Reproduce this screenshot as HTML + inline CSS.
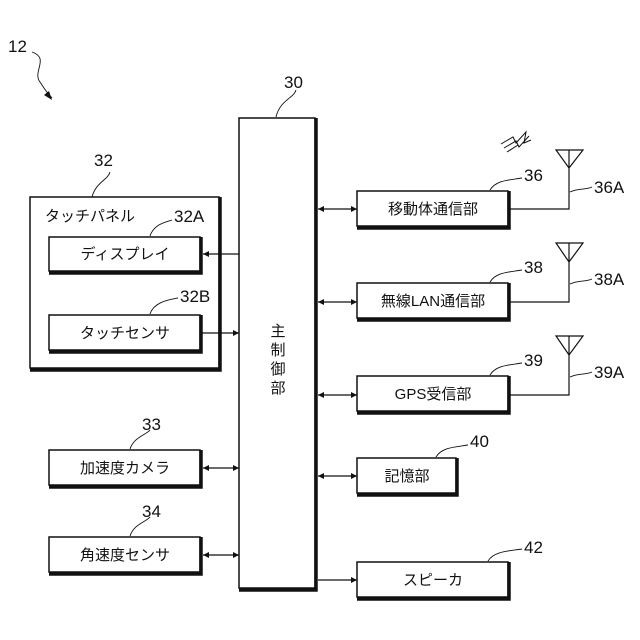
<!DOCTYPE html>
<html><head><meta charset="utf-8"><style>
html,body{margin:0;padding:0;background:#fff;}
svg{display:block}
text{font-family:"Liberation Sans","Noto Sans CJK JP",sans-serif;fill:#111;}
</style></head><body>
<svg width="640" height="640" viewBox="0 0 640 640" xmlns="http://www.w3.org/2000/svg">
<defs>
<marker id="a" viewBox="0 0 10 10" refX="10" refY="5" markerWidth="8" markerHeight="6" orient="auto-start-reverse" markerUnits="userSpaceOnUse"><path d="M0,0 L10,5 L0,10 z" fill="#111"/></marker>
</defs>
<g stroke="#111" fill="none">
<g stroke-width="1.5">
<rect x="239" y="118" width="76" height="470"/>
<rect x="30" y="197" width="189" height="171"/>
<rect x="49" y="237" width="151" height="34"/>
<rect x="49" y="315" width="151" height="35"/>
<rect x="49" y="450" width="151" height="35"/>
<rect x="49" y="537" width="151" height="35"/>
<rect x="357" y="191" width="151" height="35"/>
<rect x="357" y="283" width="151" height="35"/>
<rect x="357" y="376" width="151" height="35"/>
<rect x="357" y="458" width="99" height="35"/>
<rect x="357" y="562" width="151" height="35"/>
</g>
<g stroke-width="3.5">
<path d="M316,118 V590 H239"/>
<path d="M220,197 V370 H30"/>
<path d="M201,237 V273 H49"/>
<path d="M201,315 V352 H49"/>
<path d="M201,450 V487 H49"/>
<path d="M201,537 V574 H49"/>
<path d="M509,191 V228 H357"/>
<path d="M509,283 V320 H357"/>
<path d="M509,376 V413 H357"/>
<path d="M457,458 V495 H357"/>
<path d="M509,562 V599 H357"/>
</g>
<g stroke-width="1.2">
<line x1="239" y1="254" x2="203" y2="254" marker-end="url(#a)"/>
<line x1="202" y1="333" x2="239" y2="333" marker-end="url(#a)"/>
<line x1="203" y1="468" x2="239" y2="468" marker-start="url(#a)" marker-end="url(#a)"/>
<line x1="203" y1="555" x2="239" y2="555" marker-start="url(#a)" marker-end="url(#a)"/>
<line x1="318" y1="209" x2="357" y2="209" marker-start="url(#a)" marker-end="url(#a)"/>
<line x1="318" y1="302" x2="357" y2="302" marker-start="url(#a)" marker-end="url(#a)"/>
<line x1="318" y1="395" x2="357" y2="395" marker-start="url(#a)" marker-end="url(#a)"/>
<line x1="318" y1="476" x2="357" y2="476" marker-start="url(#a)" marker-end="url(#a)"/>
<line x1="318" y1="580" x2="357" y2="580" marker-end="url(#a)"/>
<path d="M510,209 H569 V150 M556,150 H583 L569,168 Z"/>
<path d="M510,302 H569 V243 M556,243 H583 L569,262 Z"/>
<path d="M510,395 H569 V336 M556,336 H583 L569,355 Z"/>
</g>
<g stroke-width="1">
<path d="M501,144 L513,137 L516,143 L526,132 L524,143 L531,140" />
<path d="M504,148 L516,141 L519,147 L529,136" />
<path d="M507,152 L518,145"/>
</g>
<g stroke-width="0.9">
<path d="M32,52 C50,58 32,72 40,82 C44,88 46,92 52,98"/>
<path d="M276,117 C280,100 294,98 296,90"/>
<path d="M92,197 C96,182 108,180 110,172"/>
<path d="M150,236 C154,224 166,222 172,220"/>
<path d="M150,314 C154,302 168,300 178,298"/>
<path d="M130,449 C134,437 146,435 150,430"/>
<path d="M130,536 C134,524 146,522 150,517"/>
<path d="M490,190 C496,180 510,180 522,178"/>
<path d="M490,282 C496,272 510,272 522,270"/>
<path d="M490,375 C496,365 510,365 522,363"/>
<path d="M436,457 C442,447 456,447 468,445"/>
<path d="M488,561 C494,551 510,551 522,549"/>
<path d="M570,192 C578,188 586,190 592,187"/>
<path d="M570,284 C578,280 586,282 592,279"/>
<path d="M570,377 C578,373 586,375 592,372"/>
</g>
<path d="M44,95 L52,100 L49,91 Z" fill="#111" stroke="none"/>
</g>
<g font-size="17">
<text x="8" y="52">12</text>
<text x="284" y="88">30</text>
<text x="94" y="166">32</text>
<text x="174" y="222">32A</text>
<text x="180" y="302">32B</text>
<text x="142" y="430">33</text>
<text x="142" y="517">34</text>
<text x="524" y="181">36</text>
<text x="524" y="273">38</text>
<text x="524" y="366">39</text>
<text x="470" y="447">40</text>
<text x="524" y="553">42</text>
<text x="594" y="193">36A</text>
<text x="594" y="285">38A</text>
<text x="594" y="378">39A</text>
</g>
<g font-size="15" text-anchor="middle">
<text x="125" y="259">ディスプレイ</text>
<text x="125" y="338">タッチセンサ</text>
<text x="125" y="473">加速度カメラ</text>
<text x="125" y="560">角速度センサ</text>
<text x="433" y="214">移動体通信部</text>
<text x="433" y="306">無線LAN通信部</text>
<text x="433" y="399">GPS受信部</text>
<text x="407" y="481">記憶部</text>
<text x="433" y="585">スピーカ</text>
<text x="278" y="336">主</text>
<text x="278" y="355">制</text>
<text x="278" y="374">御</text>
<text x="278" y="393">部</text>
</g>
<text x="45" y="221" font-size="15">タッチパネル</text>
</svg>
</body></html>
